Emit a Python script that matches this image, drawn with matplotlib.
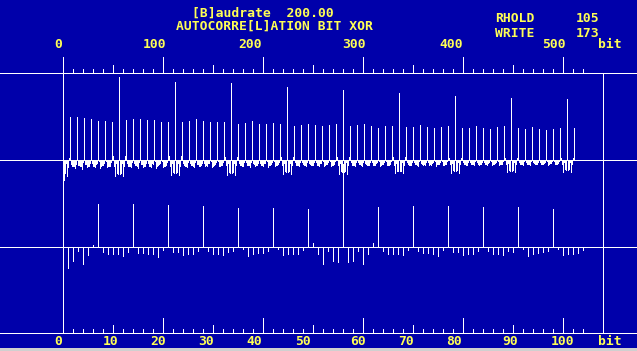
import matplotlib
matplotlib.use("Agg")
import matplotlib.pyplot as plt
import numpy as np

# ---------------- data (autocorrelation, pixel-height units, full scale = 87) -------------
corr = [
    0, -21, -14, -4, -17, -8, 2,
    43, -5, -7, -7, -7, -9, -5,
    43, -6, -6, -7, -7, -10, -3,
    42, -5, -5, -8, -7, -7, -4,
    41, -4, -7, -7, -8, -5, -4,
    39, -2, -9, -7, -6, -6, -4,
    39, -2, -8, -7, -7, -7, -3,
    38, 4, -7, -17, -4, -14, -15,
    83, -15, -14, -4, -17, -7, 4,
    40, -4, -7, -7, -7, -8, -3,
    41, -4, -6, -6, -7, -9, -3,
    41, -5, -5, -8, -7, -7, -4,
    40, -4, -7, -7, -8, -4, -5,
    40, -2, -9, -7, -6, -5, -4,
    38, -2, -8, -7, -7, -6, -3,
    38, 4, -7, -16, -4, -13, -14,
    78, -14, -13, -4, -16, -7, 4,
    38, -4, -6, -7, -7, -8, -3,
    39, -4, -6, -6, -7, -8, -3,
    41, -5, -5, -7, -7, -6, -4,
    39, -4, -7, -6, -7, -4, -4,
    38, -2, -8, -7, -6, -5, -3,
    38, -2, -7, -7, -6, -6, -3,
    38, 3, -6, -16, -4, -13, -14,
    77, -14, -13, -4, -16, -6, 3,
    36, -4, -6, -6, -7, -7, -3,
    37, -3, -6, -6, -6, -8, -3,
    39, -4, -5, -7, -6, -6, -4,
    36, -4, -6, -6, -7, -4, -4,
    36, -2, -8, -6, -6, -5, -3,
    37, -2, -7, -6, -6, -5, -3,
    36, 3, -6, -15, -4, -12, -13,
    73, -13, -12, -4, -15, -6, 3,
    34, -3, -6, -6, -6, -7, -3,
    35, -3, -5, -6, -6, -7, -3,
    36, -4, -5, -6, -6, -6, -3,
    35, -3, -6, -6, -7, -4, -4,
    34, -2, -7, -6, -5, -5, -3,
    35, -2, -7, -6, -6, -5, -2,
    36, 3, -6, -15, -4, -12, -13,
    70, -13, -12, -3, -15, -6, 3,
    34, -3, -6, -6, -6, -7, -3,
    35, -3, -5, -5, -6, -7, -3,
    36, -4, -5, -6, -6, -6, -3,
    34, -3, -6, -6, -6, -4, -3,
    32, -2, -7, -6, -5, -5, -3,
    34, -2, -6, -6, -6, -5, -2,
    34, 3, -6, -14, -4, -12, -12,
    67, -12, -12, -3, -14, -6, 3,
    33, -3, -5, -6, -6, -6, -3,
    33, -3, -5, -5, -6, -7, -2,
    35, -4, -5, -6, -5, -6, -3,
    33, -3, -6, -5, -6, -4, -3,
    32, -2, -7, -5, -5, -5, -3,
    33, -2, -6, -6, -5, -5, -2,
    34, 2, -5, -14, -4, -11, -12,
    64, -12, -11, -3, -14, -5, 2,
    32, -3, -5, -5, -6, -6, -3,
    32, -3, -5, -5, -5, -6, -2,
    34, -3, -5, -6, -5, -5, -3,
    32, -3, -5, -5, -6, -4, -3,
    31, -2, -6, -5, -5, -4, -3,
    33, -2, -6, -5, -5, -5, -2,
    34, 2, -5, -13, -4, -11, -12,
    62, -12, -11, -3, -13, -5, 2,
    32, -3, -5, -5, -5, -6, -2,
    31, -3, -5, -5, -5, -6, -2,
    33, -3, -4, -5, -5, -5, -3,
    31, -3, -5, -5, -5, -4, -3,
    30, -2, -6, -5, -4, -4, -2,
    31, -2, -5, -5, -5, -4, -2,
    32, 2, -5, -13, -3, -10, -11,
    61, -11, -10, -3, -13, -5, 2,
    32,
]
zoom_len = 105  # bits shown in the lower (zoomed) panel

top_ticks_major = [100, 200, 300, 400, 500]
top_ticks_mid = [50, 150, 250, 350, 450]
top_ticks_minor = [10, 20, 30, 40, 60, 70, 80, 90, 110, 120, 130, 140, 160, 170, 180, 190,
                   210, 220, 230, 240, 260, 270, 280, 290, 310, 320, 330, 340, 360, 370,
                   380, 390, 410, 420, 430, 440, 460, 470, 480, 490, 510, 520]
top_labels = ["0", "100", "200", "300", "400", "500", "bit"]
top_label_x = [-5, 92, 187, 291, 388, 491, 547]

bot_ticks_major = [20, 40, 60, 80, 100]
bot_ticks_mid = [10, 30, 50, 70, 90]
bot_ticks_minor = [2, 4, 6, 8, 12, 14, 16, 18, 22, 24, 26, 28, 32, 34, 36, 38, 42, 44, 46, 48,
                   52, 54, 56, 58, 62, 64, 66, 68, 72, 74, 76, 78, 82, 84, 86, 88, 92, 94,
                   96, 98, 102, 104]
bot_labels = ["0", "10", "20", "30", "40", "50", "60", "70", "80", "90", "100", "bit"]
bot_label_x = [-0.9, 9.6, 19.1, 28.6, 38.3, 47.9, 59.0, 68.6, 78.2, 89.5, 100.0, 109.4]

title1 = "[B]audrate  200.00"
title2 = "AUTOCORRE[L]ATION BIT XOR"
info_names = ["RHOLD", "WRITE"]
info_vals = ["105", "173"]

# ---------------- styling ----------------
BG = "#0000AA"
FG = "#FFFFFF"
YEL = "#FFFF55"
W, H = 637, 351
PX = 72.0 / 100.0  # one pixel in points

fig = plt.figure(figsize=(W / 100, H / 100), dpi=100, facecolor=BG)
font = dict(family="DejaVu Sans Mono", weight="bold", size=9.4, color=YEL)

def rect(top_px, bot_px):
    return [0, (H - bot_px) / H, 1, (bot_px - top_px) / H]

# top panel: 1 px per bit, bit 0 at x=63 px, baseline at y=160 px
ax1 = fig.add_axes(rect(73, 247))
ax1.set_xlim(-63, W - 63)
ax1.set_ylim(-87, 87)
ax1.axis("off")
ax1.patch.set_alpha(0)

# bottom panel: 5 px per bit, baseline at y=247 px
ax2 = fig.add_axes(rect(160, 333))
ax2.set_xlim(-63 / 5, (W - 63) / 5)
ax2.set_ylim(-86, 87)
ax2.axis("off")
ax2.patch.set_alpha(0)

bits = np.arange(len(corr))
vals = np.array(corr, dtype=float)

ax1.bar(bits[1:], vals[1:], width=1.0, align="edge", color=FG, linewidth=0,
        antialiased=False)
ax2.vlines(bits[1:zoom_len], 0, vals[1:zoom_len], colors=FG, linewidth=PX,
           antialiased=False)

line_kw = dict(color=FG, linewidth=PX, antialiased=False, clip_on=False)
ax1.axhline(87, **line_kw)
ax1.axhline(0, **line_kw)
ax2.axhline(0, **line_kw)
ax2.axhline(-86, **line_kw)

# frame verticals
ax1.vlines([0], -173, 103, colors=FG, linewidth=PX, antialiased=False, clip_on=False)
ax1.vlines([540], -173, 87, colors=FG, linewidth=PX, antialiased=False, clip_on=False)

# top ruler ticks
for xs, ln in ((top_ticks_major, 16), (top_ticks_mid, 8), (top_ticks_minor, 4)):
    ax1.vlines(xs, 87, 87 + ln, colors=FG, linewidth=PX, antialiased=False, clip_on=False)
# bottom ruler ticks
for xs, ln in ((bot_ticks_major, 15), (bot_ticks_mid, 8), (bot_ticks_minor, 4)):
    ax2.vlines(xs, -86, -86 + ln, colors=FG, linewidth=PX, antialiased=False, clip_on=False)

for lx, lt in zip(top_label_x, top_labels):
    ax1.text(lx, 160 - 44, lt, ha="center", va="center", clip_on=False, **font)
for lx, lt in zip(bot_label_x, bot_labels):
    ax2.text(lx, 247 - 341.7, lt, ha="center", va="center", clip_on=False, **font)

def ftext(x, y, s, ha="center"):
    fig.text(x / W, 1 - y / H, s, ha=ha, va="center", **font)

ftext(263, 12.7, title1)
ftext(274, 26, title2)
for i, (n, v) in enumerate(zip(info_names, info_vals)):
    ftext(495, 18.3 + 15 * i, n, ha="left")
    ftext(576, 18.3 + 15 * i, v, ha="left")

# light strip at the very bottom of the screen
fig.patches.append(plt.Rectangle((0, 0), 1, 3.5 / H, transform=fig.transFigure,
                                 facecolor="#D0D0D0", edgecolor="none"))

fig.savefig("out.png", dpi=100, facecolor=BG)
